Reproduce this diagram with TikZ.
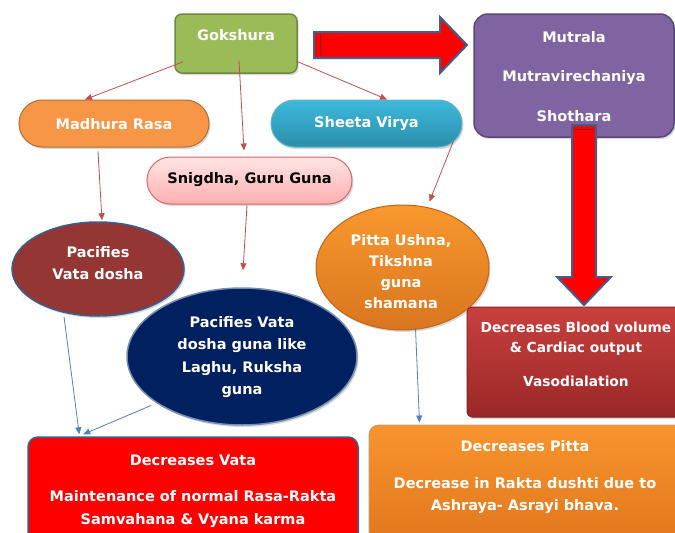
\documentclass[tikz,border=0pt]{standalone}
\usepackage{fontspec}
\setmainfont{DejaVu Sans}
\usetikzlibrary{shapes.misc,shapes.geometric,shadows,arrows.meta}
\definecolor{gokfill}{HTML}{9BBB59}
\definecolor{gokdraw}{HTML}{71893F}
\definecolor{mutfill}{HTML}{8064A2}
\definecolor{mutdraw}{HTML}{5C4776}
\definecolor{madfill}{HTML}{F79646}
\definecolor{maddraw}{HTML}{B66D31}
\definecolor{sheetop}{HTML}{3DB8DC}
\definecolor{sheebot}{HTML}{2A8FAA}
\definecolor{snigtop}{HTML}{FFE4E4}
\definecolor{snigbot}{HTML}{FFB0B0}
\definecolor{snigdraw}{HTML}{D46A6A}
\definecolor{pvfill}{HTML}{943634}
\definecolor{ovaldraw}{HTML}{3A5F8F}
\definecolor{navy}{HTML}{002060}
\definecolor{pittop}{HTML}{F9982E}
\definecolor{pitbot}{HTML}{D9751E}
\definecolor{pitdraw}{HTML}{C0651A}
\definecolor{bloodtop}{HTML}{C8403E}
\definecolor{bloodbot}{HTML}{9A2828}
\definecolor{blooddraw}{HTML}{8B2020}
\definecolor{vatafill}{HTML}{FF0000}
\definecolor{dptop}{HTML}{F8952E}
\definecolor{dpbot}{HTML}{E0761C}
\definecolor{conred}{HTML}{C0504D}
\definecolor{conblue}{HTML}{4F81BD}
\definecolor{arrowdraw}{HTML}{3F5F8F}
\begin{document}
\begin{tikzpicture}[x=1pt,y=-1pt,
  lbl/.style={font=\bfseries\fontsize{14.5}{21}\selectfont, text=white, align=center, inner sep=0pt},
  sh/.style={drop shadow={opacity=0.3,shadow xshift=1.5pt,shadow yshift=-2pt}},
  boxshape/.style={rectangle, inner sep=0pt, sh},
  pill/.style={rounded rectangle, inner sep=0pt, minimum height=47pt, line width=1pt, sh},
  oval/.style={ellipse, inner sep=0pt, line width=1.5pt, sh},
  redcon/.style={draw=conred, line width=0.8pt, -{Triangle[length=7pt,width=6pt]}},
  bluecon/.style={draw=conblue, line width=0.8pt, -{Triangle[length=7pt,width=6pt]}},
  bigarrow/.style={fill=red, draw=arrowdraw, line width=2pt, line join=miter}]
\useasboundingbox (0,0) rectangle (675,533);
\clip (0,0) rectangle (675,533);

% boxes
\node[boxshape, rounded corners=7pt, fill=gokfill, draw=gokdraw, line width=1.5pt,
      minimum width=122pt, minimum height=59pt] (gok) at (236,43.5) {};
\node[lbl] (gokt) at (236,35) {Gokshura};

\node[boxshape, rounded corners=14pt, fill=mutfill, draw=mutdraw, line width=1.5pt,
      minimum width=200pt, minimum height=123pt] (mut) at (574,75.5) {};
\node[lbl, font=\bfseries\fontsize{14.5}{39.5}\selectfont] (mutt) at (574,76.5) {Mutrala\\Mutravirechaniya\\Shothara};

\node[pill, fill=madfill, draw=maddraw, minimum width=190pt] (mad) at (114,123.5) {};
\node[lbl] (madt) at (114,124) {Madhura Rasa};

\node[pill, top color=sheetop, bottom color=sheebot, draw=sheebot!70, minimum width=191pt] (shee) at (366.5,123.5) {};
\node[lbl] (sheet) at (366.5,124) {Sheeta Virya};

\node[pill, top color=snigtop, bottom color=snigbot, draw=snigdraw, minimum width=205pt] (snig) at (249.5,180.5) {};
\node[lbl, text=black] (snigt) at (249.5,180) {Snigdha, Guru Guna};

\node[oval, fill=pvfill, draw=ovaldraw, minimum width=172pt, minimum height=94pt] (pv) at (98,269) {};
\node[lbl, font=\bfseries\fontsize{14.5}{22}\selectfont] (pvt) at (98,263) {Pacifies\\Vata dosha};

\node[oval, fill=navy, draw=ovaldraw!70, minimum width=230pt, minimum height=137pt] (pvg) at (242,356.5) {};
\node[lbl, font=\bfseries\fontsize{14.5}{22.5}\selectfont] (pvgt) at (242,357) {Pacifies Vata\\dosha guna like\\Laghu, Ruksha\\guna};

\node[oval, top color=pittop, bottom color=pitbot, draw=pitdraw, line width=1pt, minimum width=173pt, minimum height=125pt] (pitta) at (402.5,267.5) {};
\node[lbl, font=\bfseries\fontsize{14.5}{21}\selectfont] (pittat) at (401,271.5) {Pitta Ushna,\\Tikshna\\guna\\shamana};

\node[boxshape, rounded corners=5pt, top color=bloodtop, bottom color=bloodbot, draw=blooddraw, line width=1pt,
      minimum width=214pt, minimum height=110pt] (blood) at (574,362) {};
\node[lbl, font=\bfseries\fontsize{13.8}{20}\selectfont] (bloodt) at (576,354) {Decreases Blood volume\\\& Cardiac output\\[14pt]Vasodialation};

\node[boxshape, rounded corners=10pt, fill=vatafill, draw=ovaldraw, line width=1.5pt,
      minimum width=330pt, minimum height=120pt] (dvata) at (193,497) {};
\node[lbl, font=\bfseries\fontsize{14.5}{23}\selectfont] (dvatat) at (193,491) {Decreases Vata\\[13pt]Maintenance of normal Rasa-Rakta\\Samvahana \& Vyana karma};

\node[boxshape, rounded corners=10pt, top color=dptop, bottom color=dpbot, draw=pitdraw!70, line width=1pt,
      minimum width=320pt, minimum height=120pt] (dpitta) at (529,485) {};
\node[lbl, font=\bfseries\fontsize{14.5}{22}\selectfont] (dpittat) at (525,477) {Decreases Pitta\\[15pt]Decrease in Rakta dushti due to\\Ashraya- Asrayi bhava.};

% block arrows
\draw[bigarrow] (314,32) -- (440,32) -- (440,17) -- (467,45) -- (440,73) -- (440,58) -- (314,58) -- cycle;
\draw[draw=blooddraw, line width=1pt] (320,34) -- (320,56);
\draw[bigarrow] (572,125) -- (596,125) -- (596,277) -- (611,277) -- (584,305) -- (557,277) -- (572,277) -- cycle;
\draw[draw=blooddraw, line width=1pt] (574,129) -- (594,129);

% connectors
\draw[redcon] ([xshift=9pt,yshift=12pt]gok.south west) -- ([xshift=-29pt]mad.north);
\draw[redcon] ([xshift=3pt,yshift=13pt]gok.south) -- ([xshift=-5.5pt,yshift=6pt]snig.north);
\draw[redcon] ([yshift=12pt]gok.south east) -- ([xshift=20.5pt]shee.north);
\draw[redcon] ([xshift=-16pt,yshift=-4pt]mad.south) -- ([xshift=4pt,yshift=1pt]pv.north);
\draw[redcon] ([xshift=-2.5pt,yshift=-1pt]snig.south) -- ([xshift=1pt,yshift=17pt]pvg.north);
\draw[redcon] ([xshift=-9pt,yshift=-17.5pt]shee.east) -- ([xshift=27pt,yshift=3pt]pitta.north);
\draw[bluecon] ([xshift=-34pt]pv.south) -- ([xshift=52pt,yshift=2pt]dvata.north west);
\draw[bluecon] ([xshift=-9pt]pvg.south west) -- ([xshift=56pt,yshift=2pt]dvata.north west);
\draw[bluecon] ([xshift=13pt,yshift=2pt]pitta.south) -- ([xshift=51pt,yshift=2pt]dpitta.north west);
\end{tikzpicture}
\end{document}
